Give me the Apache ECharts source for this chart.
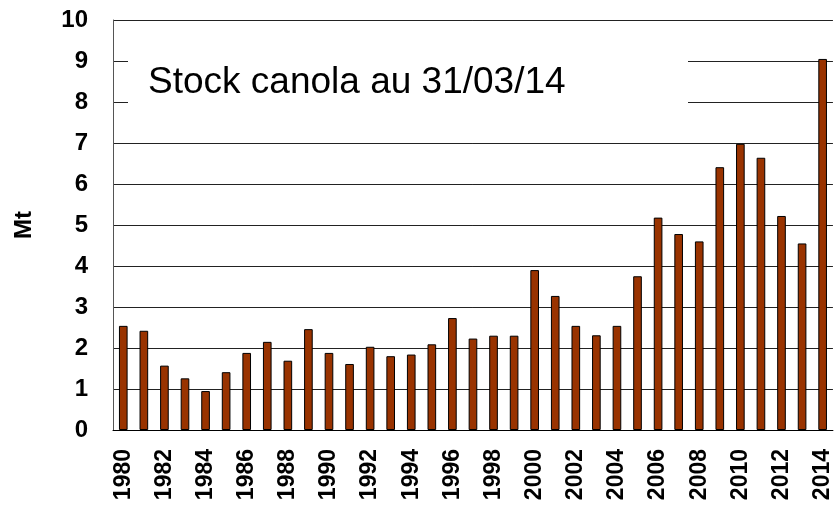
<!DOCTYPE html>
<html>
<head>
<meta charset="utf-8">
<script src="https://cdn.jsdelivr.net/npm/echarts@6/dist/echarts.min.js"></script>
<style>
  html, body { margin: 0; padding: 0; background: #fff; }
  #chart { width: 834px; height: 508px; }
</style>
</head>
<body>
<div id="chart"></div>
<script>
const years = [];
for (let y = 1980; y <= 2014; y++) years.push(String(y));

const stocks = [
  2.54, 2.42, 1.57, 1.26, 0.95, 1.41, 1.88, 2.15, 1.69, 2.46,
  1.88, 1.61, 2.03, 1.80, 1.84, 2.09, 2.73, 2.23, 2.30, 2.30,
  3.90, 3.27, 2.54, 2.31, 2.54, 3.75, 5.18, 4.78, 4.60, 6.41,
  6.98, 6.64, 5.22, 4.55, 9.05
];

const titleText = 'Stock canola au 31/03/14';
const font = 'Liberation Sans, Arial, sans-serif';

const app = echarts.init(document.getElementById('chart'));

app.setOption({
  animation: false,
  grid: { left: 113, top: 20, width: 730, height: 410 },
  xAxis: {
    type: 'category',
    data: years,
    boundaryGap: true,
    axisLine: { show: true, lineStyle: { color: '#000', width: 1 } },
    axisTick: { show: false },
    axisLabel: {
      interval: 1,
      rotate: 90,
      margin: 19,
      color: '#000',
      fontFamily: font,
      fontWeight: 'bold',
      fontSize: 23
    }
  },
  yAxis: {
    type: 'value',
    min: 0,
    max: 10,
    interval: 1,
    name: 'Mt',
    nameLocation: 'middle',
    nameRotate: 90,
    nameGap: 77,
    nameTextStyle: { color: '#000', fontFamily: font, fontWeight: 'bold', fontSize: 24 },
    axisLine: { show: true, lineStyle: { color: '#555', width: 1 } },
    axisTick: { show: false },
    axisLabel: {
      margin: 25,
      color: '#000',
      fontFamily: font,
      fontWeight: 'bold',
      fontSize: 24
    },
    splitLine: { show: true, lineStyle: { color: '#222', width: 1 } }
  },
  series: [{
    type: 'bar',
    data: stocks,
    barWidth: '42%',
    itemStyle: { color: '#993300', borderColor: '#000', borderWidth: 1 }
  }],
  graphic: [
    {
      type: 'rect',
      z: 100,
      shape: { x: 128, y: 38, width: 560, height: 88 },
      style: { fill: '#fff' }
    },
    {
      type: 'text',
      z: 101,
      x: 148,
      y: 83,
      style: {
        text: titleText,
        fill: '#000',
        font: '37px ' + font,
        textVerticalAlign: 'middle'
      }
    }
  ]
});
</script>
</body>
</html>
